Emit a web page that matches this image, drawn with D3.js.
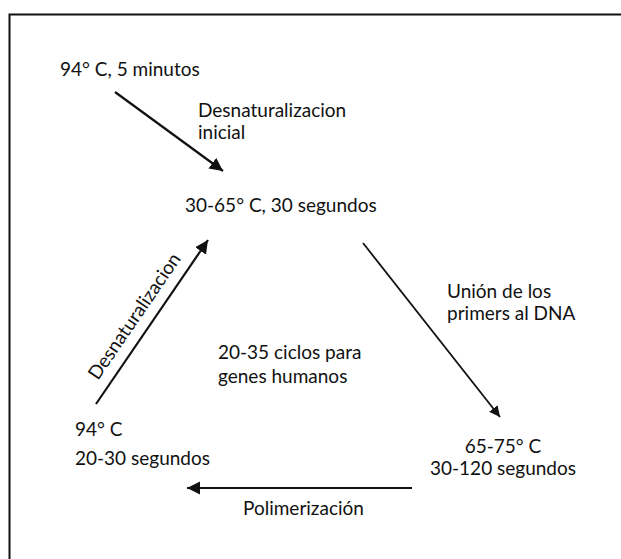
<!DOCTYPE html>
<html>
<head>
<meta charset="utf-8">
<script src="https://cdn.jsdelivr.net/npm/d3@7"></script>
<style>
  body { margin: 0; background: #fff; }
  text { font-family: Lato, "Noto Sans", sans-serif; fill: #111; }
</style>
</head>
<body>
<div id="chart"></div>
<script>
// etapas del ciclo (textos)
const stepLabels = [
  ['94° C, 5 minutos'],
  ['30-65° C, 30 segundos'],
  ['65-75° C', '30-120 segundos'],
  ['94° C', '20-30 segundos']
]
const stepAnchor = ['start', 'start', 'middle', 'start']
const arrowLabels = [
  ['Desnaturalizacion', 'inicial'],
  ['Unión de los', 'primers al DNA'],
  ['Polimerización'],
  ['Desnaturalizacion']
]
const centerLabel = ['20-35 ciclos para', 'genes humanos']

let width = 621
let height = 559
let fontSize = 19

// escala del dibujo
let x = d3.scaleLinear([0, 621], [0, width])
let y = d3.scaleLinear([0, 559], [0, height])

// posiciones
const stepPos = [[60, 76], [185, 212], [503, 453], [75, 436]]
const arrowPos = [
  [[115, 92], [223, 171]],
  [[363, 243], [500, 417]],
  [[412, 488], [187, 488]],
  [[96, 404], [208, 240]]
]
const arrowLabelPos = [[198, 117], [447, 298], [243, 515], [null, null]]
const lineGap = 22

let svg = d3.select('#chart')
  .append('svg')
  .attr('width', width)
  .attr('height', height)

svg.append('defs').append('marker')
  .attr('id', 'head')
  .attr('viewBox', '0 0 10 10')
  .attr('refX', 10)
  .attr('refY', 5)
  .attr('markerWidth', 6)
  .attr('markerHeight', 6)
  .attr('markerUnits', 'strokeWidth')
  .attr('orient', 'auto')
  .append('path')
  .attr('d', 'M0,0 L10,5 L0,10 z')
  .attr('fill', '#111')

// marco
svg.append('path')
  .attr('d', `M${x(9.5)},${y(height + 5)} L${x(9.5)},${y(14.5)} L${x(width + 5)},${y(14.5)}`)
  .attr('fill', 'none')
  .attr('stroke', '#111')
  .attr('stroke-width', 2)

let g = svg.append('g')

// flechas
g.selectAll('line.arrow').data(arrowPos).enter().append('line')
  .attr('class', 'arrow')
  .attr('x1', d => x(d[0][0]))
  .attr('y1', d => y(d[0][1]))
  .attr('x2', d => x(d[1][0]))
  .attr('y2', d => y(d[1][1]))
  .attr('stroke', '#111')
  .attr('stroke-width', (d, i) => i === 1 ? 1.8 : 2.2)
  .attr('marker-end', 'url(#head)')

// textos de las etapas
stepLabels.forEach((lines, i) => {
  let t = g.append('text')
    .attr('text-anchor', stepAnchor[i])
    .attr('font-size', fontSize)
  lines.forEach((l, j) => {
    t.append('tspan')
      .attr('x', x(stepPos[i][0]))
      .attr('y', y(stepPos[i][1] + j * (i === 3 ? 29 : lineGap)))
      .text(l)
  })
})

// textos de las flechas
arrowLabels.forEach((lines, i) => {
  if (i === 3) return
  let t = g.append('text').attr('font-size', fontSize)
  lines.forEach((l, j) => {
    t.append('tspan')
      .attr('x', x(arrowLabelPos[i][0]))
      .attr('y', y(arrowLabelPos[i][1] + j * lineGap))
      .text(l)
  })
})

// texto girado junto a la flecha izquierda
let a = arrowPos[3]
let angle = Math.atan2(a[1][1] - a[0][1], a[1][0] - a[0][0]) * 180 / Math.PI
g.append('text')
  .attr('font-size', fontSize)
  .attr('transform', `translate(${x(98)},${y(381)}) rotate(${angle})`)
  .text(arrowLabels[3][0])

// texto central
let c = g.append('text').attr('font-size', fontSize)
centerLabel.forEach((l, j) => {
  c.append('tspan')
    .attr('x', x(218))
    .attr('y', y(359 + j * 24))
    .text(l)
})
</script>
</body>
</html>
